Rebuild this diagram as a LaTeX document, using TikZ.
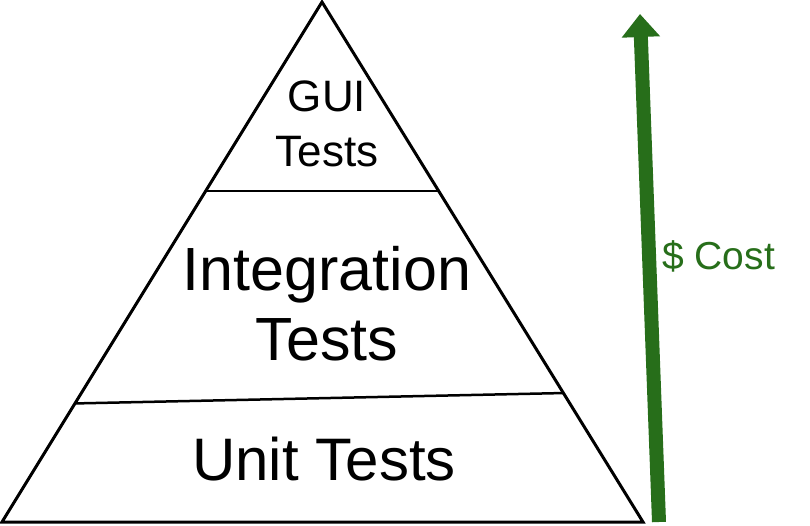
\documentclass[tikz,border=0pt]{standalone}
\usepackage{fontspec}
\setmainfont{Liberation Sans}
\usetikzlibrary{calc,arrows.meta}
\definecolor{cgreen}{RGB}{39,110,26}

\tikzset{
  layer/.style={align=center, inner sep=0pt},
  divider/.style={line width=2.5pt}
}

\begin{document}
\begin{tikzpicture}[x=1pt,y=-1pt]
\useasboundingbox (0,0) rectangle (810,526);
\def\lw{3}%pyramid outline width

% pyramid corners
\coordinate (apex) at (322,2);
\coordinate (bl) at (2,522);
\coordinate (br) at (643,522);
\draw[line width=\lw pt, line join=miter] (apex) -- (br) -- (bl) -- cycle;

% layer borders
\coordinate (gl) at ($(apex)!0.363!(bl)$);
\coordinate (gr) at ($(apex)!0.363!(br)$);
\coordinate (il) at ($(apex)!0.772!(bl)$);
\coordinate (ir) at ($(apex)!0.752!(br)$);
\draw[divider] (gl) -- (gr);
\draw[divider] (il) -- (ir);

% layer labels
\node[layer, font=\fontsize{44}{55}\selectfont] (gui) at (327,124) {GUI\\Tests};
\node[layer, font=\fontsize{61}{70}\selectfont] (integ) at (327,304) {Integration\\Tests};
\node[layer, font=\fontsize{60}{70}\selectfont] (unit) at (324,459) {Unit Tests};

% cost arrow
\coordinate (low) at (659,522);
\coordinate (high) at (640,14);
\draw[cgreen, line width=14pt, -{Triangle[length=23pt 0, width=37pt 0]}] (low) -- (high);
\node[text=cgreen, font=\fontsize{39}{45}\selectfont, anchor=west, inner sep=0pt] (cost) at (662,256) {\$ Cost};
\end{tikzpicture}
\end{document}
